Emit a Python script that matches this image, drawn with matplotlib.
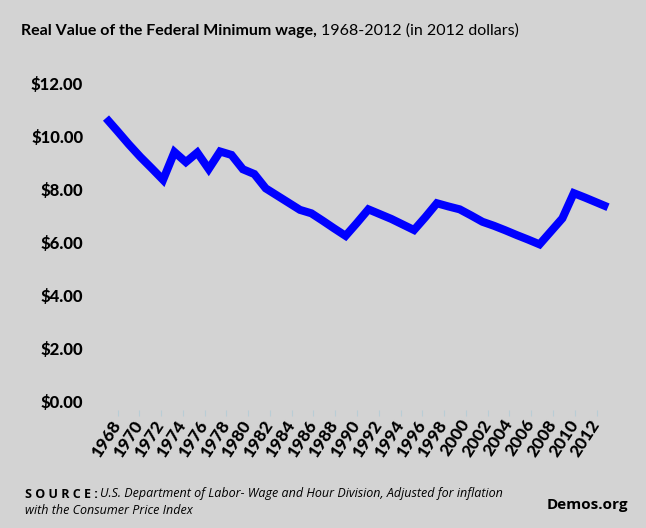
import matplotlib
matplotlib.use("Agg")
import matplotlib.pyplot as plt

years = list(range(1968, 2013))
wage = [10.69, 10.20, 9.70, 9.23, 8.80, 8.36, 9.41, 9.03, 9.39, 8.77,
        9.43, 9.30, 8.76, 8.58, 8.04, 7.77, 7.50, 7.23, 7.10, 6.82,
        6.53, 6.25, 6.74, 7.25, 7.07, 6.89, 6.68, 6.47, 6.96, 7.48,
        7.36, 7.25, 7.02, 6.78, 6.63, 6.46, 6.28, 6.11, 5.93, 6.42,
        6.91, 7.86, 7.69, 7.51, 7.33]
tick_labels = [str(y) for y in range(1968, 2013, 2)]
y_ticks = [0, 2, 4, 6, 8, 10, 12]
y_labels = ["$%.2f" % v for v in y_ticks]

W, H = 646, 528
BG = "#d3d3d3"
fig = plt.figure(figsize=(W / 100, H / 100), dpi=100, facecolor=BG)

# axes placement in pixels
ax_l, ax_r, ax_t, ax_b = 95, 622, 75, 410
ax = fig.add_axes([ax_l / W, 1 - ax_b / H, (ax_r - ax_l) / W, (ax_b - ax_t) / H])
ax.set_facecolor(BG)

px_per_year = (608 - 106) / 44.0
ax.set_xlim(1968 - (106 - ax_l) / px_per_year, 2012 + (ax_r - 608) / px_per_year)
px_per_dollar = (401.7 - 83.3) / 12.0
ax.set_ylim(-(ax_b - 401.7) / px_per_dollar, 12 + (83.3 - ax_t) / px_per_dollar)

ax.plot(years, wage, color="#0000ff", lw=5.8, solid_joinstyle="miter", solid_capstyle="butt")

for s in ax.spines.values():
    s.set_visible(False)
ax.set_yticks(y_ticks)
ax.set_yticklabels(y_labels, fontfamily="Lato", fontweight="black", fontsize=12)
ax.tick_params(axis="y", length=0, pad=8.5)
ax.set_xticks([])

# category labels axis (labels spaced as in reference)
ax2 = ax.twiny()
t0, t1p = 117.5, 596.5
px_per_idx = (t1p - t0) / 22.0
ax2.set_xlim(-(t0 - ax_l) / px_per_idx, 22 + (ax_r - t1p) / px_per_idx)
ax2.xaxis.set_ticks_position("bottom")
ax2.xaxis.set_label_position("bottom")
ax2.set_xticks(range(len(tick_labels)))
ax2.set_xticklabels(tick_labels, rotation=57, ha="right", va="center",
                    rotation_mode="anchor", fontfamily="Lato", fontweight="black", fontsize=12.5)
ax2.tick_params(axis="x", length=4, width=0.8, color="#b9cdd5", pad=4)
for s in ax2.spines.values():
    s.set_visible(False)

# title
tt = fig.text(21 / W, 1 - 31 / H, "Real Value of the Federal Minimum wage,", fontfamily="Lato",
              fontweight="bold", fontsize=11.5, va="center", ha="left")
fig.canvas.draw()
bb = tt.get_window_extent()
fig.text((bb.x1 + 4) / W, 1 - 31 / H, "1968-2012 (in 2012 dollars)", fontfamily="Lato",
         fontsize=11.5, va="center", ha="left")

# source
s1 = fig.text(25 / W, 1 - 494 / H, "S O U R C E :", fontfamily="Open Sans", fontweight="bold",
              fontsize=9, va="center", ha="left")
fig.canvas.draw()
bb = s1.get_window_extent()
fig.text((bb.x1 + 2) / W, 1 - 494 / H,
         "U.S. Department of Labor- Wage and Hour Division, Adjusted for inflation",
         fontfamily="Open Sans", fontstyle="italic", fontsize=9, va="center", ha="left")
fig.text(25 / W, 1 - 511 / H, "with the Consumer Price Index", fontfamily="Open Sans",
         fontstyle="italic", fontsize=9, va="center", ha="left")
fig.text(628 / W, 1 - 505 / H, "Demos.org", fontfamily="Open Sans", fontweight="bold",
         fontsize=11, va="center", ha="right")

fig.savefig("out.png", dpi=100, facecolor=BG)
